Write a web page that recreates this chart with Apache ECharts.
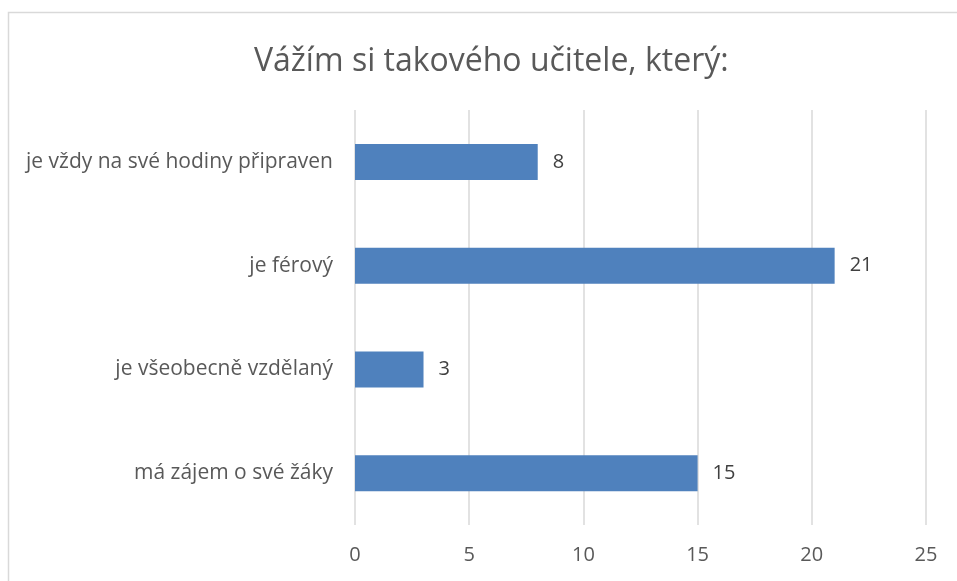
<!DOCTYPE html>
<html>
<head>
<meta charset="utf-8">
<script src="https://cdn.jsdelivr.net/npm/echarts@6/dist/echarts.min.js"></script>
<style>
  html, body { margin: 0; padding: 0; background: #fff; }
  #chart { width: 957px; height: 581px; }
</style>
</head>
<body>
<div id="chart"></div>
<script>
// kategorie odshora dolů
const categories = [
  'je vždy na své hodiny připraven',
  'je férový',
  'je všeobecně vzdělaný',
  'má zájem o své žáky',
]
const values = [8, 21, 3, 15]
const xTicks = { min: 0, max: 25, interval: 5 }

const FONT = '"Open Sans", "Liberation Sans", sans-serif'
const TEXT = '#595959'

const chart = echarts.init(document.getElementById('chart'))

chart.setOption({
  animation: false,
  title: {
    text: 'Vážím si takového učitele, který:',
    left: 249,
    top: 41,
    textStyle: { fontFamily: FONT, fontSize: 32, fontWeight: 'normal', color: TEXT },
  },
  graphic: [{
    type: 'rect',
    shape: { x: 8.5, y: 12.5, width: 960, height: 600 },
    style: { fill: 'none', stroke: '#d9d9d9', lineWidth: 1.5 },
    silent: true,
  }],
  grid: { left: 355, right: 31, top: 110, bottom: 56, containLabel: false },
  xAxis: {
    type: 'value',
    min: xTicks.min, max: xTicks.max, interval: xTicks.interval,
    axisLine: { show: false },
    axisTick: { show: false },
    axisLabel: { color: TEXT, fontSize: 20, fontFamily: FONT, margin: 20 },
    splitLine: { lineStyle: { color: '#d9d9d9', width: 1.5 } },
  },
  yAxis: {
    type: 'category',
    data: categories,
    inverse: true,
    axisLine: { show: false },
    axisTick: { show: false },
    axisLabel: { color: TEXT, fontSize: 21, fontFamily: FONT, margin: 22 },
  },
  series: [{
    type: 'bar',
    data: values,
    barWidth: 36,
    itemStyle: { color: '#4f81bd' },
    label: {
      show: true, position: 'right', distance: 15,
      color: '#404040', fontSize: 20, fontFamily: FONT,
    },
  }],
})
</script>
</body>
</html>
